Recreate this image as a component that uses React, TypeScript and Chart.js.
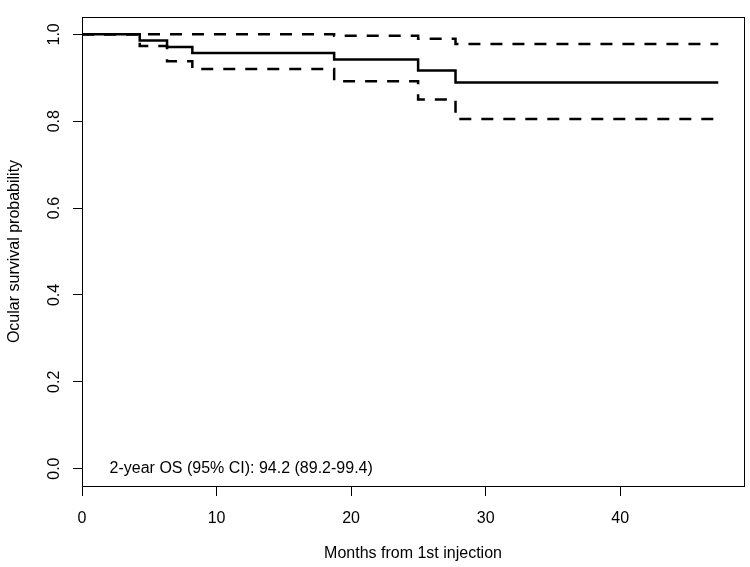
import React, { useEffect, useRef } from "react";
import { Chart, registerables } from "chart.js";

Chart.register(...registerables);

// Kaplan-Meier step data (months from 1st injection)
const months = [0, 4.29, 6.32, 8.2, 18.74, 24.98, 27.76, 47.29];
const survival = [1, 0.986, 0.971, 0.957, 0.942, 0.917, 0.889, 0.889];
const lowerCI = [1, 0.973, 0.938, 0.92, 0.892, 0.85, 0.805, 0.805];
const upperCI = [1, 1, 1, 1, 0.997, 0.99, 0.978, 0.978];

const xTicks = [0, 10, 20, 30, 40];
const yTicks = [0, 0.2, 0.4, 0.6, 0.8, 1.0];
const yTickLabels = ["0.0", "0.2", "0.4", "0.6", "0.8", "1.0"];

const xTitle = "Months from 1st injection";
const yTitle = "Ocular survival probability";
const annotationText = "2-year OS (95% CI): 94.2 (89.2-99.4)";
const annotationMonth = 2.05;
const annotationProb = 0;

const FONT_FAMILY = '"Liberation Sans", Arial, sans-serif';
const FONT_SIZE = 16;
const INK = "#000";

const toPoints = (ys: number[]) => months.map((m, i) => ({ x: m, y: ys[i] }));

const rPlotPlugin = {
  id: "rPlot",
  afterDraw(chart: any) {
    const { ctx, chartArea: a, scales } = chart;
    const x = scales.x;
    const y = scales.y;
    ctx.save();
    // box around plot region
    ctx.strokeStyle = INK;
    ctx.lineWidth = 1;
    ctx.strokeRect(
      Math.round(a.left) + 0.5,
      Math.round(a.top) + 0.5,
      Math.round(a.right - a.left),
      Math.round(a.bottom - a.top)
    );
    // rotated y tick labels (R style)
    ctx.fillStyle = INK;
    ctx.font = `${FONT_SIZE}px ${FONT_FAMILY}`;
    yTicks.forEach((v, i) => {
      const py = y.getPixelForValue(v);
      ctx.save();
      ctx.translate(a.left - 23.5, py);
      ctx.rotate(-Math.PI / 2);
      ctx.textAlign = "center";
      ctx.textBaseline = "alphabetic";
      ctx.fillText(yTickLabels[i], 0, 0);
      ctx.restore();
    });
    // annotation text
    ctx.textAlign = "left";
    ctx.textBaseline = "middle";
    ctx.fillText(
      annotationText,
      x.getPixelForValue(annotationMonth),
      y.getPixelForValue(annotationProb)
    );
    ctx.restore();
  },
};

export default function App() {
  const canvasRef = useRef<HTMLCanvasElement | null>(null);

  useEffect(() => {
    const canvas = canvasRef.current;
    if (!canvas) return;
    const font = { family: FONT_FAMILY, size: FONT_SIZE };
    const chart = new Chart(canvas, {
      type: "line",
      data: {
        datasets: [
          {
            label: "Survival",
            data: toPoints(survival),
            stepped: true,
            borderColor: INK,
            borderWidth: 2.5,
            pointRadius: 0,
            fill: false,
          },
          {
            label: "Lower 95% CI",
            data: toPoints(lowerCI),
            stepped: true,
            borderColor: INK,
            borderWidth: 2.5,
            borderDash: [12, 10],
            pointRadius: 0,
            fill: false,
          },
          {
            label: "Upper 95% CI",
            data: toPoints(upperCI),
            stepped: true,
            borderColor: INK,
            borderWidth: 2.5,
            borderDash: [12, 10],
            pointRadius: 0,
            fill: false,
          },
        ],
      },
      options: {
        responsive: false,
        animation: false,
        layout: { padding: { top: 17, right: 6, left: 0, bottom: 0 } },
        plugins: {
          legend: { display: false },
          tooltip: { enabled: false },
        },
        scales: {
          x: {
            type: "linear",
            min: 0,
            max: 49.2,
            afterBuildTicks: (s: any) => {
              s.ticks = xTicks.map((v) => ({ value: v }));
            },
            afterFit: (s: any) => {
              s.height = 81;
            },
            grid: {
              display: true,
              drawOnChartArea: false,
              drawTicks: true,
              tickLength: 10,
              color: INK,
              lineWidth: 1,
            },
            border: { display: false },
            ticks: {
              padding: 13,
              font,
              color: INK,
              maxRotation: 0,
              minRotation: 0,
              autoSkip: false,
            },
            title: {
              display: true,
              text: xTitle,
              font,
              color: INK,
              padding: { top: 0, bottom: 4 },
            },
          },
          y: {
            type: "linear",
            min: -0.04,
            max: 1.04,
            afterBuildTicks: (s: any) => {
              s.ticks = yTicks.map((v) => ({ value: v }));
            },
            afterFit: (s: any) => {
              s.width = 82;
            },
            grid: {
              display: true,
              drawOnChartArea: false,
              drawTicks: true,
              tickLength: 9,
              color: INK,
              lineWidth: 1,
            },
            border: { display: false },
            ticks: { display: false },
            title: {
              display: true,
              text: yTitle,
              font,
              color: INK,
              padding: { top: 5, bottom: 0 },
            },
          },
        },
      },
      plugins: [rPlotPlugin],
    } as any);
    return () => chart.destroy();
  }, []);

  return (
    <div style={{ position: "fixed", left: 0, top: 0, width: 750, height: 567, background: "#fff" }}>
      <canvas ref={canvasRef} width={750} height={567} style={{ display: "block" }} />
    </div>
  );
}
